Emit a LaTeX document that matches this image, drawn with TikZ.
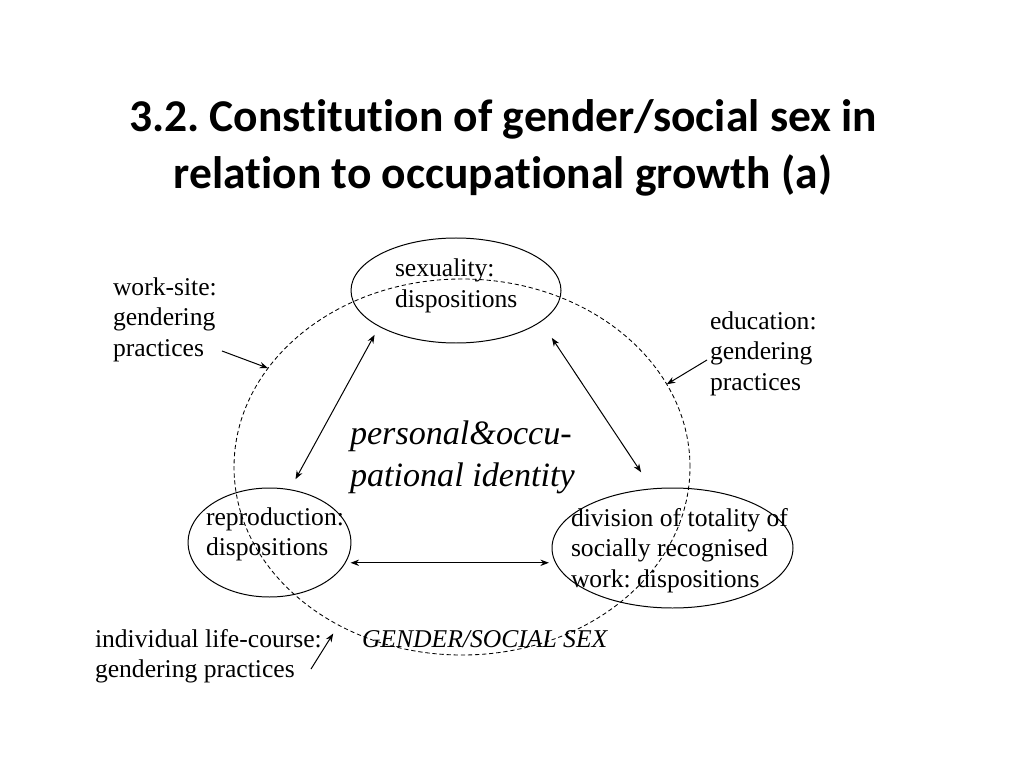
\documentclass[tikz,border=0pt]{standalone}
\usepackage{fontspec}
\setmainfont{Liberation Serif}
\newfontfamily\titlefont[Ligatures=NoCommon]{Carlito}
\usetikzlibrary{arrows.meta,shapes.geometric}
\frenchspacing
\begin{document}
\begin{tikzpicture}[x=0.703125pt,y=-0.703125pt,
  every node/.style={inner sep=0pt, outer sep=0pt},
  txt/.style={anchor=base west, font=\fontsize{18}{21.6}\selectfont},
  oval/.style={draw, ellipse, line width=0.7pt},
  link/.style={line width=0.7pt, {Stealth[length=6pt,width=4.5pt]}-{Stealth[length=6pt,width=4.5pt]}},
  note/.style={line width=0.7pt, -{Stealth[length=6pt,width=4.5pt]}},
]
\useasboundingbox (0,0) rectangle (1024,768);

% title
\node[anchor=base, font=\titlefont\bfseries\fontsize{32}{40}\selectfont] (title) at (503,132)
  {\begin{tabular}[t]{@{}c@{}}3.2. Constitution of gender/social sex in\\relation to occupational growth (a)\end{tabular}};

% dashed ellipse
\node[draw, ellipse, dash pattern=on 3pt off 2pt, line width=0.6pt, minimum width=320.6pt, minimum height=264.4pt] (gs) at (462,467) {};

% ellipses
\node[oval, minimum width=147.66pt, minimum height=73.83pt] (sex) at (456,290.5) {};
\node[oval, minimum width=114.6pt, minimum height=76.64pt] (rep) at (269.5,542.5) {};
\node[oval, minimum width=169.45pt, minimum height=84.375pt] (div) at (672.5,548) {};

% texts
\node[txt] (sextxt) at (395,277) {\begin{tabular}[t]{@{}l@{}}sexuality:\\dispositions\end{tabular}};
\node[txt] (reptxt) at (206,525) {\begin{tabular}[t]{@{}l@{}}reproduction:\\dispositions\end{tabular}};
\node[txt] (divtxt) at (571,526) {\begin{tabular}[t]{@{}l@{}}division of totality of\\socially recognised\\work: dispositions\end{tabular}};
\node[txt] (ws) at (113,295) {\begin{tabular}[t]{@{}l@{}}work-site:\\gendering\\practices\end{tabular}};
\node[txt] (edu) at (710,329) {\begin{tabular}[t]{@{}l@{}}education:\\gendering\\practices\end{tabular}};
\node[txt] (lc) at (95,647) {\begin{tabular}[t]{@{}l@{}}individual life-course:\\gendering practices\end{tabular}};
\node[txt, font=\itshape\fontsize{18}{21.6}\selectfont] (gstxt) at (362,647) {GENDER/SOCIAL SEX};
\node[anchor=base west, font=\itshape\fontsize{24}{30.2}\selectfont] (pid) at (350,444)
  {\begin{tabular}[t]{@{}l@{}}personal\&occu-\\pational identity\end{tabular}};

% double arrows
\draw[link, shorten <=6.8pt, shorten >=8.4pt] (sex.205.3) -- (rep.69.6);
\draw[link, shorten <=13.9pt, shorten >=14pt] (sex.340.8) -- (div.109.2);
\draw[link, shorten <=3.8pt, shorten >=4pt] (rep.345.6) -- (rep.345.6 -| div.186.8);

% annotation arrows
\coordinate (ws0) at (222,351);
\coordinate (edu0) at (707,360);
\coordinate (lc0) at (311,669);
\draw[note] (ws0) -- (gs.153);
\draw[note] (edu0) -- (gs.22.3);
\draw[note, shorten >=7pt] (lc0) -- (gs.232.6);
\end{tikzpicture}
\end{document}
